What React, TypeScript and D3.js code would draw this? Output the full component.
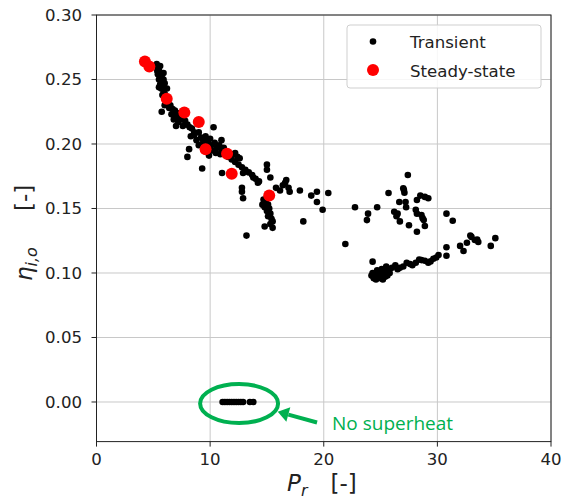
import React from "react";
import * as d3 from "d3";

const xTicks = [0, 10, 20, 30, 40];
const yTicks = [0, 0.05, 0.1, 0.15, 0.2, 0.25, 0.3];

const transientBand: [number, number][] = [
  [5.3, 0.262], [5.4, 0.259], [5.5, 0.257], [5.4, 0.254], [5.6, 0.252], [5.5, 0.25], [5.7, 0.249], [5.6, 0.246],
  [5.8, 0.245], [5.7, 0.243], [5.9, 0.241], [6.0, 0.239], [5.8, 0.238], [6.1, 0.236], [5.9, 0.255], [5.6, 0.2605],
  [6.0, 0.247], [6.2, 0.243], [5.5, 0.244], [5.9, 0.25], [5.35, 0.2565], [5.75, 0.2535],
  [6.0, 0.23], [5.74, 0.225], [6.3, 0.232], [6.5, 0.23], [6.4, 0.228], [6.7, 0.227], [6.9, 0.226], [7.1, 0.224],
  [6.6, 0.223], [7.0, 0.221], [7.3, 0.222], [7.5, 0.219], [7.2, 0.217], [7.8, 0.218], [8.0, 0.215], [8.2, 0.213],
  [7.6, 0.214], [7.0, 0.214], [8.4, 0.212], [8.6, 0.209], [6.8, 0.219],
  [8.3, 0.206], [8.6, 0.207], [9.0, 0.209], [9.2, 0.205], [9.4, 0.203], [9.6, 0.206], [9.8, 0.202], [10.0, 0.204],
  [10.3, 0.213], [9.3, 0.2], [9.7, 0.198], [10.1, 0.199], [10.4, 0.201], [10.6, 0.197], [10.8, 0.199], [11.0, 0.195],
  [10.5, 0.193], [10.2, 0.195], [8.15, 0.196], [8.0, 0.19], [9.3, 0.181], [9.9, 0.191], [10.9, 0.192], [11.2, 0.197],
  [11.4, 0.194], [11.0, 0.203], [9.0, 0.199], [8.8, 0.203],
  [11.6, 0.19], [11.9, 0.188], [12.2, 0.193], [12.6, 0.189], [12.2, 0.186], [12.5, 0.184], [12.8, 0.182], [13.1, 0.18],
  [13.4, 0.178], [13.7, 0.176], [14.0, 0.173], [14.3, 0.171], [12.0, 0.192], [12.4, 0.19], [11.05, 0.1775], [12.9, 0.1775],
  [13.8, 0.174], [14.2, 0.17], [12.8, 0.166], [12.8, 0.163], [12.9, 0.158],
  [15.0, 0.184], [15.0, 0.18], [15.3, 0.174], [14.7, 0.157], [14.9, 0.155], [15.1, 0.153], [14.8, 0.151], [15.2, 0.15],
  [15.0, 0.148], [15.3, 0.146], [15.1, 0.144], [15.4, 0.142], [15.5, 0.14], [15.3, 0.138], [14.8, 0.136], [15.5, 0.135],
  [14.6, 0.153], [13.2, 0.129],
  [16.15, 0.164], [16.6, 0.17], [16.9, 0.166], [17.0, 0.163], [16.4, 0.168], [17.9, 0.164], [18.9, 0.16], [19.4, 0.163],
  [19.4, 0.155], [20.4, 0.162], [19.9, 0.149], [18.2, 0.14], [15.8, 0.166], [16.7, 0.172],
];

const transientUpperCluster: [number, number][] = [
  [22.75, 0.151], [23.9, 0.146], [23.8, 0.141], [24.7, 0.151], [21.9, 0.1225], [25.7, 0.162], [27.4, 0.176],
  [27.0, 0.1657], [27.1, 0.1623], [26.65, 0.155], [27.2, 0.155], [27.25, 0.151], [26.2, 0.1475], [26.4, 0.144],
  [26.7, 0.14], [27.5, 0.137], [28.2, 0.132], [28.1, 0.149], [28.2, 0.146], [28.5, 0.16], [28.9, 0.159], [29.2, 0.158],
  [28.2, 0.1566], [28.6, 0.145], [28.8, 0.141], [28.9, 0.1364], [30.8, 0.146], [31.35, 0.1405], [26.5, 0.146],
  [28.7, 0.1425], [27.05, 0.1645],
];

const transientLowerBranch: [number, number][] = [
  [24.2, 0.098], [24.4, 0.096], [24.6, 0.095], [24.8, 0.097], [25.0, 0.096], [25.2, 0.095], [25.4, 0.097], [25.6, 0.098],
  [24.5, 0.099], [24.9, 0.1], [25.3, 0.101], [25.6, 0.103], [24.7, 0.102], [25.1, 0.103], [25.5, 0.105], [24.3, 0.1],
  [25.8, 0.1], [24.6, 0.0985], [25.0, 0.0985], [25.4, 0.0995], [24.3, 0.1088],
  [26.0, 0.104], [26.3, 0.106], [26.5, 0.103], [26.7, 0.104], [27.0, 0.105], [27.3, 0.108], [27.6, 0.107], [27.8, 0.106],
  [28.1, 0.108], [28.4, 0.1105], [28.6, 0.11], [28.9, 0.1095], [29.2, 0.108], [29.4, 0.109], [29.65, 0.111], [29.9, 0.112],
  [30.1, 0.114], [30.8, 0.12], [30.8, 0.1134], [32.0, 0.121], [32.3, 0.117], [32.6, 0.1235], [33.0, 0.128], [33.3, 0.1256],
  [33.6, 0.124], [32.9, 0.129], [34.7, 0.121], [35.1, 0.127], [33.5, 0.126],
];

const transientNoSuperheat: [number, number][] = [
  [11.1, 0], [11.3, 0], [11.5, 0], [11.7, 0], [11.9, 0], [12.1, 0], [12.3, 0], [12.5, 0], [12.7, 0], [12.9, 0], [13.5, 0], [13.8, 0],
];

const steadyState: [number, number][] = [
  [4.26, 0.264], [4.65, 0.26], [6.18, 0.235], [7.73, 0.2245], [9.0, 0.217], [9.6, 0.196], [11.49, 0.1925], [11.9, 0.177], [15.2, 0.16],
];

const legendLabels = ["Transient", "Steady-state"];
const annotationText = "No superheat";

const W = 563;
const H = 502;
const green = "#00b050";
const font = "'DejaVu Sans', sans-serif";

export default function App() {
  const x = d3.scaleLinear().domain([0, 40]).range([96.5, 551]);
  const y = d3.scaleLinear().domain([-0.0307, 0.3]).range([441.6, 15]);
  const [x0, x1] = x.range();
  const [y0, y1] = y.range();
  const transient = [...transientBand, ...transientUpperCluster, ...transientLowerBranch, ...transientNoSuperheat];

  // annotation geometry (data units)
  const ellC = [12.55, -0.0012];
  const arrowFrom = [19.41, -0.0159];
  const arrowTip = [15.95, -0.0075];
  const ax0 = x(arrowFrom[0]), ay0 = y(arrowFrom[1]);
  const ax1 = x(arrowTip[0]), ay1 = y(arrowTip[1]);
  const ang = Math.atan2(ay1 - ay0, ax1 - ax0);
  const hl = 11, hw = 7.5;
  const bx = ax1 - hl * Math.cos(ang), by = ay1 - hl * Math.sin(ang);
  const head = [
    [ax1, ay1],
    [bx + hw * Math.sin(ang), by - hw * Math.cos(ang)],
    [bx - hw * Math.sin(ang), by + hw * Math.cos(ang)],
  ];

  return (
    <svg width={W} height={H} style={{ position: "absolute", left: 0, top: 0, background: "#fff" }} fontFamily={font}>
      <rect x={0} y={0} width={W} height={H} fill="#fff" />
      {/* grid */}
      {xTicks.map((t) => (
        <line key={"gx" + t} x1={x(t)} x2={x(t)} y1={y0} y2={y1} stroke="#c8c8c8" strokeWidth={1} />
      ))}
      {yTicks.map((t) => (
        <line key={"gy" + t} x1={x0} x2={x1} y1={y(t)} y2={y(t)} stroke="#c8c8c8" strokeWidth={1} />
      ))}
      {/* points */}
      {transient.map((d, i) => (
        <circle key={"t" + i} cx={x(d[0])} cy={y(d[1])} r={3.3} fill="#000" />
      ))}
      {steadyState.map((d, i) => (
        <circle key={"s" + i} cx={x(d[0])} cy={y(d[1])} r={6} fill="#ff0000" />
      ))}
      {/* spines */}
      <rect x={x0} y={y1} width={x1 - x0} height={y0 - y1} fill="none" stroke="#222" strokeWidth={1} />
      {/* ticks */}
      {xTicks.map((t) => (
        <g key={"tx" + t}>
          <line x1={x(t)} x2={x(t)} y1={y0} y2={y0 + 5} stroke="#222" />
          <text x={x(t)} y={465} textAnchor="middle" fontSize={16.6} fill="#222">{t}</text>
        </g>
      ))}
      {yTicks.map((t) => (
        <g key={"ty" + t}>
          <line x1={x0 - 5} x2={x0} y1={y(t)} y2={y(t)} stroke="#222" />
          <text x={82} y={y(t) + 6} textAnchor="end" fontSize={16.6} fill="#222">{t.toFixed(2)}</text>
        </g>
      ))}
      {/* axis labels */}
      <text x={287} y={491} textAnchor="start" fontSize={23} fill="#222">
        <tspan fontStyle="italic">P</tspan>
        <tspan fontStyle="italic" fontSize={16} dy={5}>r</tspan>
        <tspan dy={-5} dx={23}>[-]</tspan>
      </text>
      <text transform="translate(32,281) rotate(-90)" textAnchor="start" fontSize={23} fill="#222">
        <tspan fontStyle="italic">η</tspan>
        <tspan fontStyle="italic" fontSize={16} dy={5}>i,o</tspan>
        <tspan dy={-5} dx={36}>[-]</tspan>
      </text>
      {/* legend */}
      <rect x={347} y={25} width={194} height={63} rx={3} fill="#fff" fillOpacity={0.85} stroke="#cfcfcf" strokeWidth={1} />
      <circle cx={373} cy={41.5} r={3.3} fill="#000" />
      <text x={410} y={48} fontSize={16.6} fill="#222">{legendLabels[0]}</text>
      <circle cx={373} cy={70} r={6} fill="#ff0000" />
      <text x={410} y={76.5} fontSize={16.6} fill="#222">{legendLabels[1]}</text>
      {/* annotation */}
      <ellipse cx={x(ellC[0])} cy={y(ellC[1])} rx={39} ry={19.5} fill="none" stroke={green} strokeWidth={4} />
      <line x1={ax0} y1={ay0} x2={bx} y2={by} stroke={green} strokeWidth={4} />
      <polygon points={head.map((p) => p.join(",")).join(" ")} fill={green} />
      <text x={x(20.73)} y={y(-0.0217)} fontSize={19} fill={green} fontFamily="'Open Sans', sans-serif">{annotationText}</text>
    </svg>
  );
}
